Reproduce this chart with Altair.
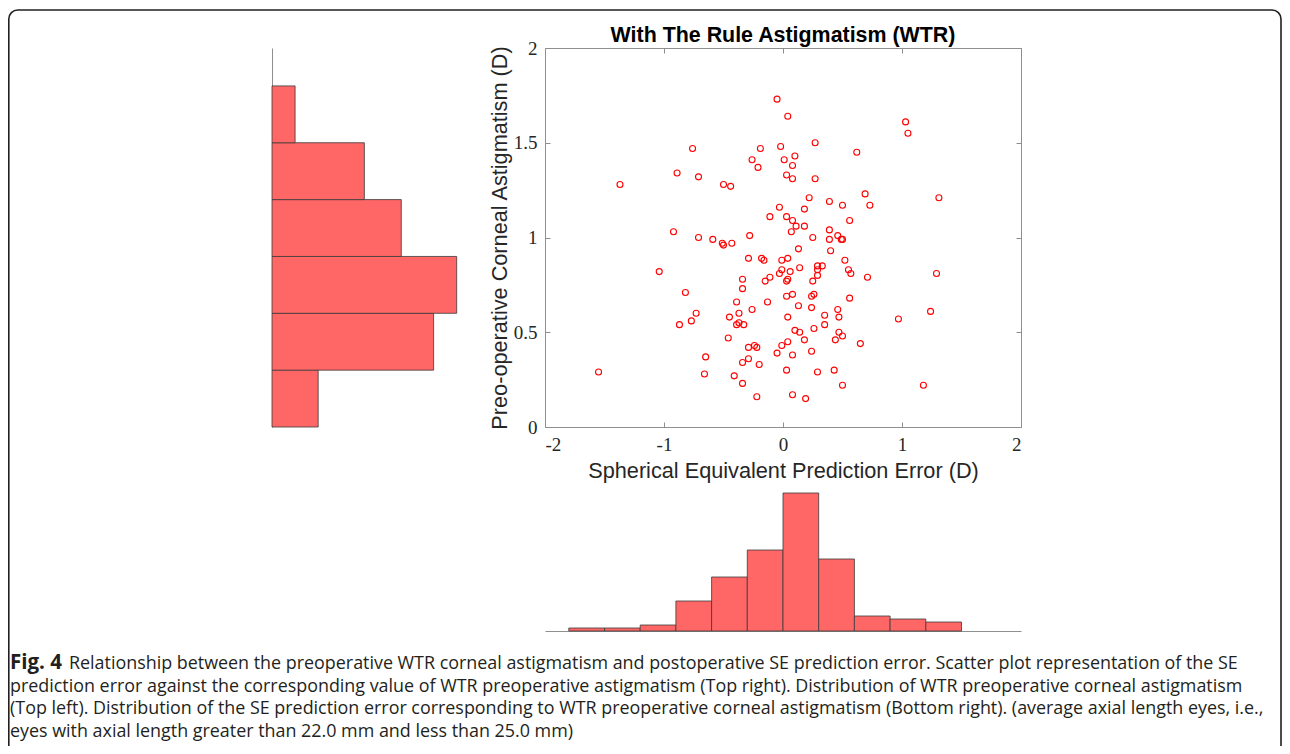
import altair as alt
import pandas as pd

# ---------------- data ----------------
se_error = [
    -0.05, 0.04, -0.76, -0.19, -0.02, -0.26, 0.01, -0.21, -0.89, -0.71,
    0.03, -1.37, -0.50, -0.44, -0.03, -0.11, 0.03, -0.92, -0.28, -0.71,
    -0.59, 1.03, 1.05, 0.27, 0.10, 0.08, 0.62, 0.08, 0.27, 0.22,
    0.39, 0.50, 0.69, 0.73, 1.31, 0.18, 0.08, 0.56, 0.18, 0.11,
    0.07, 0.39, 0.46, 0.49, 0.50, 0.25, 0.39, -0.51, -0.50, -0.43,
    -1.04, -0.29, -0.18, -0.16, -0.01, 0.04, -0.01, -0.03, -0.34, -0.34,
    -0.11, -0.15, 0.03, 0.04, -0.82, -0.39, -0.13, 0.03, -0.73, -0.77,
    -0.87, -0.37, -0.45, -0.26, -0.39, -0.37, -0.33, 0.04, -0.46, -0.29,
    -0.24, -0.22, -0.01, -0.05, 0.04, -0.65, -0.29, -0.34, -0.20, 0.03,
    -1.55, -0.66, -0.41, -0.34, -0.22, 0.13, 0.40, 0.14, 0.29, 0.33,
    0.29, 0.52, 0.55, 0.57, 0.06, 0.25, 0.29, 0.71, 1.29, 0.08,
    0.13, 0.24, 0.26, 0.24, 0.56, 0.35, 0.46, 0.47, 0.35, 0.97,
    1.24, 0.10, 0.14, 0.26, 0.47, 0.50, 0.44, 0.18, 0.65, 0.08,
    0.24, 0.29, 0.43, 0.50, 1.18, 0.08, 0.19,
]
astigmatism = [
    1.73, 1.64, 1.47, 1.47, 1.48, 1.41, 1.41, 1.37, 1.34, 1.32,
    1.33, 1.28, 1.28, 1.27, 1.16, 1.11, 1.11, 1.03, 1.01, 1.00,
    0.99, 1.61, 1.55, 1.50, 1.43, 1.38, 1.45, 1.31, 1.31, 1.21,
    1.19, 1.17, 1.23, 1.17, 1.21, 1.15, 1.09, 1.09, 1.06, 1.06,
    1.03, 1.04, 1.01, 0.99, 0.99, 1.00, 0.99, 0.97, 0.96, 0.97,
    0.82, 0.89, 0.89, 0.88, 0.88, 0.89, 0.83, 0.81, 0.78, 0.73,
    0.79, 0.77, 0.77, 0.78, 0.71, 0.66, 0.66, 0.69, 0.60, 0.56,
    0.54, 0.60, 0.58, 0.62, 0.54, 0.55, 0.54, 0.58, 0.47, 0.42,
    0.43, 0.42, 0.43, 0.39, 0.45, 0.37, 0.36, 0.34, 0.33, 0.30,
    0.29, 0.28, 0.27, 0.23, 0.16, 0.94, 0.93, 0.84, 0.85, 0.85,
    0.83, 0.88, 0.83, 0.81, 0.82, 0.77, 0.80, 0.79, 0.81, 0.70,
    0.64, 0.69, 0.70, 0.63, 0.68, 0.59, 0.62, 0.58, 0.54, 0.57,
    0.61, 0.51, 0.50, 0.52, 0.50, 0.48, 0.46, 0.46, 0.44, 0.38,
    0.40, 0.29, 0.30, 0.22, 0.22, 0.17, 0.15,
]

astig_bin_start = [0.0, 0.3, 0.6, 0.9, 1.2, 1.5]
astig_counts = [10, 35, 40, 28, 20, 5]

se_bin_start = [-1.8, -1.5, -1.2, -0.9, -0.6, -0.3, 0.0, 0.3, 0.6, 0.9, 1.2]
se_counts = [1, 1, 2, 10, 18, 27, 46, 24, 5, 4, 3]
bin_width = 0.3

x_ticks = [-2, -1, 0, 1, 2]
y_ticks = [0, 0.5, 1, 1.5, 2]

chart_title = "With The Rule Astigmatism (WTR)"
x_title = "Spherical Equivalent Prediction Error (D)"
y_title = "Preo-operative Corneal Astigmatism (D)"

caption_bold = "Fig. 4"
caption_lines = [
    "Relationship between the preoperative WTR corneal astigmatism and postoperative SE prediction error. Scatter plot representation of the SE",
    "prediction error against the corresponding value of WTR preoperative astigmatism (Top right). Distribution of WTR preoperative corneal astigmatism",
    "(Top left). Distribution of the SE prediction error corresponding to WTR preoperative corneal astigmatism (Bottom right). (average axial length eyes, i.e.,",
    "eyes with axial length greater than 22.0 mm and less than 25.0 mm)",
]

# ---------------- layout ----------------
W, H = 1274, 738
SX = [537, 1013]          # scatter x pixel range
SY = [419, 40]            # scatter y pixel range
LH_X = [264, 448.7]       # left histogram count range
BH_Y = [623, 485]         # bottom histogram count range
GRAY = "#8f8f8f"
DARK = "#262626"
BAR_FILL = "#ff6666"
BAR_STROKE = "#3a3a3a"
SERIF = "Liberation Serif"
SANS = "Liberation Sans"
CAP_SIZE = 17.9

xs = alt.Scale(domain=[-2, 2], range=SX, nice=False, zero=False)
ys = alt.Scale(domain=[0, 2], range=SY, nice=False, zero=False)

scatter_df = pd.DataFrame({"se": se_error, "astig": astigmatism})
astig_df = pd.DataFrame({
    "start": astig_bin_start,
    "end": [b + bin_width for b in astig_bin_start],
    "count": astig_counts,
    "zero": [0] * len(astig_counts),
})
se_df = pd.DataFrame({
    "start": se_bin_start,
    "end": [b + bin_width for b in se_bin_start],
    "count": se_counts,
    "zero": [0] * len(se_counts),
})

label_expr = "datum.value + ''"

# scatter points with labelled axes
points = alt.Chart(scatter_df).mark_point(
    shape="circle", filled=False, color="#ff0000", size=36, strokeWidth=1.1, opacity=1
).encode(
    x=alt.X("se:Q", scale=xs, axis=alt.Axis(
        orient="bottom", offset=-(H - SY[0]), values=x_ticks, labelExpr=label_expr,
        domain=False, ticks=False, tickSize=0, grid=False,
        labelFont=SERIF, labelFontSize=19, labelColor=DARK, labelPadding=8,
        title=x_title, titleFont=SANS, titleFontSize=21.7, titleFontWeight="normal",
        titleColor=DARK, titlePadding=6)),
    y=alt.Y("astig:Q", scale=ys, axis=alt.Axis(
        orient="left", offset=-SX[0], values=y_ticks, labelExpr=label_expr,
        domain=False, ticks=False, tickSize=0, grid=False,
        labelFont=SERIF, labelFontSize=19, labelColor=DARK, labelPadding=8,
        title=y_title, titleFont=SANS, titleFontSize=21.7, titleFontWeight="normal",
        titleColor=DARK, titlePadding=2)),
)

def tick_axis(orient, offset, values):
    return alt.Axis(orient=orient, offset=offset, values=values, labels=False,
                    domain=True, domainColor=GRAY, domainWidth=1,
                    ticks=True, tickSize=5, tickColor=GRAY, tickWidth=1,
                    grid=False, title=None)

# inward ticks on bottom and left edges
box_bl = alt.Chart(scatter_df).mark_point(opacity=0).encode(
    x=alt.X("se:Q", scale=xs, axis=tick_axis("top", -SY[0], x_ticks)),
    y=alt.Y("astig:Q", scale=ys, axis=tick_axis("right", SX[0] - W, y_ticks)),
)
# inward ticks on top and right edges
box_tr = alt.Chart(scatter_df).mark_point(opacity=0).encode(
    x=alt.X("se:Q", scale=xs, axis=tick_axis("bottom", SY[1] - H, x_ticks)),
    y=alt.Y("astig:Q", scale=ys, axis=tick_axis("left", -SX[1], y_ticks)),
)

title_df = pd.DataFrame({"x": [0], "y": [2], "t": [chart_title]})
title_layer = alt.Chart(title_df).mark_text(
    font=SANS, fontSize=21.4, fontWeight="bold", color="#000000",
    baseline="alphabetic", align="center", dy=-6
).encode(
    x=alt.X("x:Q", scale=xs, axis=None),
    y=alt.Y("y:Q", scale=ys, axis=None),
    text="t:N",
)

line_axis = dict(labels=False, ticks=False, tickSize=0, grid=False, title=None,
                 domain=True, domainColor=GRAY, domainWidth=1)

left_hist = alt.Chart(astig_df).mark_rect(
    fill=BAR_FILL, stroke=BAR_STROKE, strokeWidth=0.8
).encode(
    x=alt.X("zero:Q", scale=alt.Scale(domain=[0, 40], range=LH_X, nice=False, zero=False), axis=None),
    x2="count:Q",
    y=alt.Y("start:Q", scale=ys, axis=alt.Axis(orient="left", offset=-LH_X[0], **line_axis)),
    y2="end:Q",
)

bottom_hist = alt.Chart(se_df).mark_rect(
    fill=BAR_FILL, stroke=BAR_STROKE, strokeWidth=0.8
).encode(
    x=alt.X("start:Q", scale=xs, axis=alt.Axis(orient="bottom", offset=BH_Y[0] - H, **line_axis)),
    x2="end:Q",
    y=alt.Y("zero:Q", scale=alt.Scale(domain=[0, 46], range=BH_Y, nice=False, zero=False), axis=None),
    y2="count:Q",
)

# caption
cap_scale = alt.Scale(domain=[0, 3], range=[661, 729], nice=False, zero=False)
cap_df = pd.DataFrame({"line": list(range(len(caption_lines))), "text": caption_lines})
cap_first = alt.Chart(cap_df[cap_df.line == 0]).mark_text(
    font="Open Sans", fontSize=CAP_SIZE, color="#231f20", align="left", baseline="alphabetic", dx=59
).encode(x=alt.value(2), y=alt.Y("line:Q", scale=cap_scale, axis=None), text="text:N")
cap_rest = alt.Chart(cap_df[cap_df.line > 0]).mark_text(
    font="Open Sans", fontSize=CAP_SIZE, color="#231f20", align="left", baseline="alphabetic"
).encode(x=alt.value(2), y=alt.Y("line:Q", scale=cap_scale, axis=None), text="text:N")
bold_df = pd.DataFrame({"line": [0], "text": [caption_bold]})
cap_bold = alt.Chart(bold_df).mark_text(
    font="Open Sans", fontSize=20.5, fontWeight="bold", color="#231f20", align="left", baseline="alphabetic"
).encode(x=alt.value(2), y=alt.Y("line:Q", scale=cap_scale, axis=None), text="text:N")

# figure frame (decoration)
frame = alt.Chart(pd.DataFrame({"f": [0]})).mark_rect(
    fill=None, stroke="#231f20", strokeWidth=1.6, cornerRadius=9
).encode(x=alt.value(0.8), x2=alt.value(W - 1), y=alt.value(2), y2=alt.value(H + 40))

chart = alt.layer(
    frame, left_hist, bottom_hist, box_bl, box_tr, points, title_layer,
    cap_bold, cap_first, cap_rest,
).resolve_scale(
    x="independent", y="independent"
).resolve_axis(
    x="independent", y="independent"
).properties(
    width=W, height=H, padding=0, autosize=alt.AutoSizeParams(type="none"),
    background="white",
).configure_view(stroke=None)

chart.save("out.html", embed_options={"renderer": "svg", "actions": False})
